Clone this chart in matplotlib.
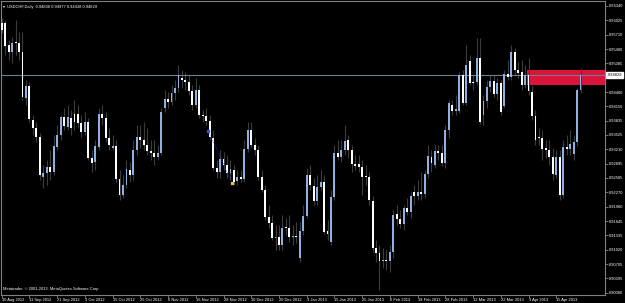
import matplotlib.pyplot as plt
from matplotlib.patches import Rectangle
from matplotlib.transforms import blended_transform_factory

plt.rcParams["font.family"] = ["Liberation Sans", "DejaVu Sans"]

# USDCHF daily bars, 30 Aug 2012 .. 24 Apr 2013
opens = [
    .9596, .9596, .9549, .9534, .9556, .9553, .9534, .9433, .9459, .9385,
    .9368, .9348, .9261, .9270, .9283, .9272, .9326, .9352, .9392, .9370,
    .9390, .9398, .9398, .9378, .9359, .9381, .9302, .9294, .9326, .9398,
    .9390, .9346, .9324, .9328, .9256, .9221, .9243, .9276, .9265, .9319,
    .9348, .9341, .9330, .9317, .9313, .9304, .9313, .9412, .9431, .9425,
    .9444, .9455, .9477, .9472, .9468, .9448, .9418, .9450, .9396, .9394,
    .9383, .9346, .9281, .9272, .9300, .9287, .9270, .9276, .9252, .9261,
    .9256, .9321, .9363, .9330, .9319, .9261, .9232, .9173, .9160, .9127,
    .9130, .9112, .9151, .9149, .9130, .9132, .9084, .9143, .9175, .9265,
    .9241, .9208, .9239, .9250, .9143, .9119, .9217, .9313, .9304, .9319,
    .9341, .9319, .9289, .9289, .9283, .9263, .9261, .9208, .9106, .9095,
    .9077, .9079, .9077, .9097, .9180, .9169, .9158, .9193, .9184, .9228,
    .9219, .9228, .9223, .9267, .9304, .9287, .9317, .9313, .9291, .9363,
    .9418, .9405, .9405, .9483, .9422, .9514, .9468, .9468, .9521, .9396,
    .9427, .9457, .9470, .9441, .9466, .9416, .9485, .9479, .9534, .9494,
    .9490, .9461, .9483, .9446, .9394, .9348, .9346, .9324, .9319, .9304,
    .9265, .9304, .9221, .9326, .9321, .9311, .9337, .9450,
]
highs = [
    .9608, .9603, .9560, .9567, .9603, .9578, .9578, .9472, .9468, .9396,
    .9381, .9356, .9287, .9298, .9319, .9352, .9374, .9396, .9412, .9418,
    .9407, .9429, .9418, .9396, .9403, .9390, .9319, .9341, .9412, .9418,
    .9403, .9368, .9352, .9341, .9276, .9265, .9298, .9294, .9341, .9374,
    .9374, .9381, .9368, .9341, .9341, .9330, .9412, .9450, .9446, .9461,
    .9472, .9505, .9494, .9490, .9483, .9461, .9477, .9461, .9407, .9412,
    .9396, .9363, .9298, .9319, .9315, .9308, .9298, .9287, .9276, .9276,
    .9341, .9380, .9381, .9346, .9330, .9276, .9243, .9199, .9178, .9156,
    .9156, .9178, .9171, .9178, .9156, .9162, .9162, .9199, .9281, .9287,
    .9259, .9265, .9276, .9265, .9167, .9232, .9330, .9341, .9341, .9374,
    .9352, .9330, .9308, .9308, .9298, .9287, .9272, .9219, .9123, .9112,
    .9106, .9101, .9112, .9188, .9199, .9188, .9199, .9215, .9228, .9243,
    .9254, .9272, .9276, .9330, .9319, .9330, .9330, .9330, .9374, .9429,
    .9429, .9439, .9490, .9494, .9549, .9527, .9483, .9565, .9565, .9439,
    .9472, .9483, .9483, .9477, .9472, .9494, .9516, .9549, .9543, .9512,
    .9516, .9505, .9521, .9461, .9407, .9368, .9363, .9341, .9341, .9324,
    .9319, .9319, .9341, .9352, .9363, .9352, .9455, .94977,
]
lows = [
    .9575, .9527, .9516, .9509, .9527, .9516, .9429, .9418, .9381, .9352,
    .9337, .9254, .9237, .9243, .9254, .9265, .9319, .9341, .9363, .9363,
    .9352, .9363, .9368, .9348, .9352, .9298, .9272, .9276, .9319, .9374,
    .9337, .9319, .9319, .9250, .9210, .9215, .9237, .9250, .9254, .9308,
    .9324, .9319, .9308, .9298, .9287, .9298, .9308, .9403, .9412, .9418,
    .9429, .9446, .9455, .9450, .9439, .9407, .9412, .9390, .9381, .9374,
    .9341, .9276, .9259, .9259, .9276, .9259, .9254, .9243, .9243, .9250,
    .9250, .9315, .9324, .9308, .9254, .9228, .9167, .9149, .9123, .9101,
    .9101, .9101, .9134, .9119, .9112, .9116, .9075, .9134, .9171, .9232,
    .9199, .9199, .9232, .9136, .9123, .9112, .9210, .9298, .9294, .9308,
    .9302, .9272, .9276, .9272, .9221, .9243, .9199, .9097, .9075, .9014,
    .9062, .9057, .9053, .9084, .9156, .9149, .9145, .9178, .9171, .9199,
    .9210, .9210, .9215, .9259, .9272, .9281, .9298, .9285, .9281, .9346,
    .9396, .9396, .9401, .9418, .9418, .9461, .9450, .9461, .9377, .9374,
    .9412, .9446, .9435, .9429, .9396, .9412, .9472, .9472, .9483, .9477,
    .9450, .9455, .9439, .9385, .9330, .9330, .9298, .9302, .9287, .9254,
    .9259, .9210, .9215, .9308, .9308, .9298, .9328, .94438,
]
closes = [
    .9582, .9547, .9534, .9553, .9553, .9534, .9435, .9459, .9387, .9368,
    .9348, .9265, .9270, .9283, .9272, .9328, .9352, .9392, .9372, .9392,
    .9368, .9381, .9378, .9359, .9381, .9302, .9291, .9328, .9398, .9390,
    .9346, .9330, .9328, .9256, .9221, .9243, .9278, .9265, .9319, .9348,
    .9341, .9330, .9317, .9313, .9304, .9313, .9403, .9431, .9425, .9444,
    .9455, .9483, .9472, .9468, .9448, .9418, .9450, .9396, .9394, .9383,
    .9348, .9281, .9272, .9300, .9287, .9270, .9278, .9250, .9261, .9256,
    .9321, .9363, .9330, .9319, .9261, .9232, .9173, .9160, .9127, .9130,
    .9112, .9149, .9149, .9130, .9132, .9130, .9143, .9175, .9265, .9243,
    .9208, .9239, .9250, .9141, .9136, .9217, .9313, .9304, .9319, .9339,
    .9319, .9289, .9285, .9283, .9261, .9261, .9210, .9106, .9095, .9077,
    .9079, .9077, .9097, .9178, .9169, .9158, .9193, .9184, .9219, .9219,
    .9228, .9223, .9267, .9306, .9291, .9317, .9313, .9291, .9363, .9422,
    .9405, .9409, .9483, .9422, .9505, .9466, .9466, .9521, .9381, .9427,
    .9457, .9470, .9441, .9466, .9403, .9485, .9479, .9534, .9494, .9488,
    .9461, .9483, .9448, .9394, .9341, .9346, .9321, .9319, .9304, .9267,
    .9304, .9221, .9326, .9321, .9332, .9337, .9450, .94829,
]

date_labels = ["30 Aug 2012", "11 Sep 2012", "21 Sep 2012", "3 Oct 2012",
               "15 Oct 2012", "25 Oct 2012", "6 Nov 2012", "16 Nov 2012",
               "28 Nov 2012", "10 Dec 2012", "20 Dec 2012", "3 Jan 2013",
               "15 Jan 2013", "25 Jan 2013", "6 Feb 2013", "18 Feb 2013",
               "28 Feb 2013", "12 Mar 2013", "22 Mar 2013", "3 Apr 2013",
               "15 Apr 2013"]
date_bars = [0, 8, 16, 24, 32, 40, 48, 56, 64, 72, 80, 88, 96, 104, 112,
             120, 128, 136, 144, 152, 160]

price_ticks = [0.96340, 0.96025, 0.95710, 0.95400, 0.95085, 0.94460,
               0.94150, 0.93835, 0.93525, 0.93210, 0.92895, 0.92585,
               0.92270, 0.91960, 0.91645, 0.91335, 0.91020, 0.90705,
               0.90395, 0.90080]

bid = 0.94829
zone_start, zone_lo, zone_hi = 151.6, 0.94614, 0.94941
trade_bars = [59.6, 66.4]
trade_prices = [0.93615, 0.92480]

up_col = "#8fb0e0"
down_col = "#ffffff"
wick_col = "#3c3c3c"
grey = "#808080"
fs = 2.9

fig = plt.figure(figsize=(6.25, 3.03), dpi=100, facecolor="black")
ax = fig.add_axes([1 / 625, 8 / 303, 604 / 625, 294 / 303], facecolor="black")

x = list(range(len(closes)))

# supply zone (drawn behind the bars)
ax.add_patch(Rectangle((zone_start, zone_lo), 30, zone_hi - zone_lo,
                       color="#dc143c", lw=0, zorder=1))

ax.vlines(x, lows, highs, color=wick_col, lw=0.8, zorder=2)
bottoms = [min(o, c) for o, c in zip(opens, closes)]
heights = [max(abs(c - o), 0.00012) for o, c in zip(opens, closes)]
colors = [up_col if c > o else down_col for o, c in zip(opens, closes)]
ax.bar(x, heights, bottom=bottoms, width=0.55, color=colors, lw=0, zorder=3)

# current bid line
ax.axhline(bid, color="#6e7f91", lw=0.8, zorder=2.5)

# trade history markers
ax.plot(trade_bars, trade_prices, ls=(0, (1, 1.5)), color="#1e3cff", lw=0.6, zorder=4)
ax.plot(trade_bars[0], trade_prices[0], "s", ms=2, color="#3050ff", zorder=5)
ax.plot(trade_bars[1], trade_prices[1], "s", ms=2, color="#f0c040", zorder=5)

ax.set_xlim(-0.2, 174.06)
ax.set_ylim(0.90030, 0.96449)

for s in ax.spines.values():
    s.set_color(grey)
    s.set_linewidth(0.8)

ax.yaxis.tick_right()
ax.set_yticks(price_ticks)
ax.set_yticklabels(["%.5f" % p for p in price_ticks])
ax.tick_params(axis="y", colors=grey, labelcolor="white", labelsize=fs,
               length=2, width=0.6, pad=1)
ax.set_xticks(date_bars)
ax.set_xticklabels(date_labels, ha="left")
ax.tick_params(axis="x", colors=grey, labelcolor="white", labelsize=fs,
               length=2, width=0.6, pad=0.5)

# highlighted bid label on the price scale
tr = blended_transform_factory(ax.transAxes, ax.transData)
ax.text(1.004, bid, "%.5f" % bid, transform=tr, fontsize=fs, color="black",
        va="center", ha="left",
        bbox=dict(boxstyle="square,pad=0.25", fc="white", ec="white"))

ax.text(0.004, 0.985, "\u25be  USDCHF,Daily  0.94838 0.94977 0.94438 0.94829",
        transform=ax.transAxes, fontsize=fs, color="white", va="top")
ax.text(0.004, 0.012, "Metatrader, \u00a9 2001-2013, MetaQuotes Software Corp.",
        transform=ax.transAxes, fontsize=fs, color="white", va="bottom")

fig.savefig("out.png", dpi=100, facecolor="black")
